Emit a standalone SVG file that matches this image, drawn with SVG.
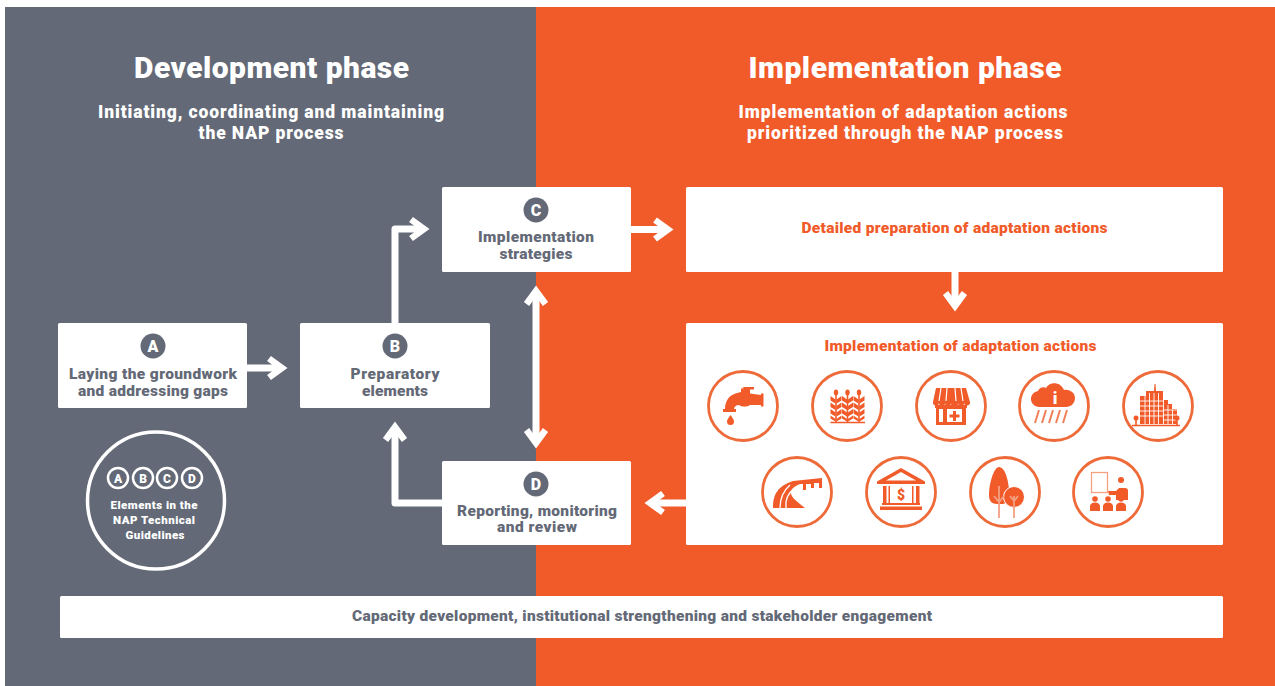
<svg xmlns="http://www.w3.org/2000/svg" width="1275" height="686" viewBox="0 0 1275 686">
<style>
text{font-family:"Roboto","Liberation Sans",sans-serif;font-weight:900;text-anchor:middle}
.box{fill:#fff}
.t{font-size:15.500px;fill:#636976}
.o{font-size:15.500px;fill:#f15a29}
.h1{font-size:30px;fill:#fff}
.h2{font-size:17.500px;fill:#fff}
.badge{fill:#636976}
.bl{font-size:16px;fill:#fff}
.ring{fill:none;stroke:#fff;stroke-width:2.500}
.sm{font-size:11.500px;fill:#fff}
.ltr{font-size:12px;fill:#fff}
.ic{fill:none;stroke:#ee6a38;stroke-width:2.800}
.f{fill:#f15a29}
.l{fill:none;stroke:#f15a29;stroke-width:1.600}
.c{fill:none;stroke:#fff;stroke-width:7;stroke-linejoin:round}
</style>
<defs>
<marker id="ah" markerUnits="userSpaceOnUse" markerWidth="24" markerHeight="26" viewBox="0 0 24 26" refX="18" refY="13" orient="auto-start-reverse">
<path d="M5 3.500L18 13L5 22.500" fill="none" stroke="#fff" stroke-width="6.500"/>
</marker>
</defs>
<rect x="5" y="7" width="531" height="679" fill="#636976"/>
<rect x="536" y="7" width="739" height="679" fill="#f15a29"/>
<g id="titles">
<text class="h1" x="271.500" y="78" textLength="275" lengthAdjust="spacing">Development phase</text>
<text class="h2" x="271" y="118" textLength="346" lengthAdjust="spacing">Initiating, coordinating and maintaining</text>
<text class="h2" x="271" y="139" textLength="145" lengthAdjust="spacing">the NAP process</text>
<text class="h1" x="905" y="78" textLength="313" lengthAdjust="spacing">Implementation phase</text>
<text class="h2" x="903" y="118" textLength="329" lengthAdjust="spacing">Implementation of adaptation actions</text>
<text class="h2" x="905" y="139" textLength="316" lengthAdjust="spacing">prioritized through the NAP process</text>
</g>
<g id="connectors">
<path class="c" d="M247 368H282" marker-end="url(#ah)"/>
<path class="c" d="M395 323V229H424" marker-end="url(#ah)"/>
<path class="c" d="M631 229.500H668" marker-end="url(#ah)"/>
<path class="c" d="M536 291V443" marker-start="url(#ah)" marker-end="url(#ah)"/>
<path class="c" d="M442 503H395V427" marker-end="url(#ah)"/>
<path class="c" d="M686 503H650" marker-end="url(#ah)"/>
<path class="c" d="M955 271V306" marker-end="url(#ah)"/>
</g>
<g id="node-a">
<rect class="box" x="58" y="323" width="189" height="85" rx="1.500"/>
<circle class="badge" cx="153" cy="346" r="12.500"/><text class="bl" x="153" y="351.500">A</text>
<text class="t" x="153" y="379" textLength="168" lengthAdjust="spacing">Laying the groundwork</text>
<text class="t" x="153" y="396" textLength="150" lengthAdjust="spacing">and addressing gaps</text>
</g>
<g id="node-b">
<rect class="box" x="300" y="323" width="190" height="85" rx="1.500"/>
<circle class="badge" cx="395" cy="346" r="12.500"/><text class="bl" x="395" y="351.500">B</text>
<text class="t" x="395" y="379" textLength="89" lengthAdjust="spacing">Preparatory</text>
<text class="t" x="395" y="396" textLength="66" lengthAdjust="spacing">elements</text>
</g>
<g id="node-c">
<rect class="box" x="442" y="187" width="189" height="85" rx="1.500"/>
<circle class="badge" cx="536" cy="210" r="12.500"/><text class="bl" x="536" y="215.500">C</text>
<text class="t" x="536" y="242" textLength="116" lengthAdjust="spacing">Implementation</text>
<text class="t" x="536" y="259" textLength="73" lengthAdjust="spacing">strategies</text>
</g>
<g id="node-d">
<rect class="box" x="442" y="461" width="189" height="84" rx="1.500"/>
<circle class="badge" cx="536" cy="484" r="12.500"/><text class="bl" x="536" y="489.500">D</text>
<text class="t" x="537" y="516" textLength="160" lengthAdjust="spacing">Reporting, monitoring</text>
<text class="t" x="537" y="532" textLength="80" lengthAdjust="spacing">and review</text>
</g>
<g id="node-detail">
<rect class="box" x="686" y="187" width="537" height="85" rx="1.500"/>
<text class="o" x="954.500" y="233" textLength="306" lengthAdjust="spacing">Detailed preparation of adaptation actions</text>
</g>
<g id="node-implementation">
<rect class="box" x="686" y="323" width="537" height="222" rx="1.500"/>
<text class="o" x="960.500" y="351" textLength="272" lengthAdjust="spacing">Implementation of adaptation actions</text>
<g id="icon-water">
<circle class="ic" cx="743" cy="406" r="34.500"/>
<path class="f" d="M743 387h11v2.500h-4v4l11 1.500v-1.500h2.500v13h-2.500v-1.500h-11c-3 2-8 2-11 0c-3 0-5 2-5 4h2v3h-13v-3h2c0-8 4-14 12-16l4-1v-3.500h2.500v-1h-1.500z"/>
<path class="f" d="M730.500 415c2 3 3.500 4.500 3.500 6.500a3.500 3.500 0 0 1-7 0c0-2 1.500-3.500 3.500-6.500z"/>
</g>
<g id="icon-crops">
<circle class="ic" cx="847" cy="406" r="34.500"/>
<path class="l" d="M830.500 422.500H865"/>
<path class="l" d="M836 391V422M847.500 391V422M859 391V422"/>
<g class="f">
<ellipse cx="836" cy="392.500" rx="2.200" ry="3"/><ellipse cx="847.500" cy="392.500" rx="2.200" ry="3"/><ellipse cx="859" cy="392.500" rx="2.200" ry="3"/>
<g id="leafrow">
<path d="M830.500 396l5 3.500v4l-5-3zM841.500 396l-5 3.500v4l5-3zM842 396l5 3.500v4l-5-3zM853 396l-5 3.500v4l5-3zM853.500 396l5 3.500v4l-5-3zM864.500 396l-5 3.500v4l5-3z"/>
<path transform="translate(0 6.500)" d="M830.500 396l5 3.500v4l-5-3zM841.500 396l-5 3.500v4l5-3zM842 396l5 3.500v4l-5-3zM853 396l-5 3.500v4l5-3zM853.500 396l5 3.500v4l-5-3zM864.500 396l-5 3.500v4l5-3z"/>
<path transform="translate(0 13)" d="M830.500 396l5 3.500v4l-5-3zM841.500 396l-5 3.500v4l5-3zM842 396l5 3.500v4l-5-3zM853 396l-5 3.500v4l5-3zM853.500 396l5 3.500v4l-5-3zM864.500 396l-5 3.500v4l5-3z"/>
<path transform="translate(0 19.500)" d="M830.500 396l5 3.500v2.500l-5-3zM841.500 396l-5 3.500v2.500l5-3zM842 396l5 3.500v2.500l-5-3zM853 396l-5 3.500v2.500l5-3zM853.500 396l5 3.500v2.500l-5-3zM864.500 396l-5 3.500v2.500l5-3z"/>
</g>
</g>
</g>
<g id="icon-clinic">
<circle class="ic" cx="951" cy="406" r="34.500"/>
<path class="f" d="M936 388h30l4 14a3 3 0 0 1-6 1a3 3 0 0 1-6 0a3 3 0 0 1-7 0a3 3 0 0 1-6 0a3 3 0 0 1-6 0a3 3 0 0 1-6-1z"/>
<path class="f" d="M935 405h32v3h-1v17h-30v-17h-1zM939 409v13h4v-13zM947 409v13h15v-13z"/>
<path class="f" d="M953 411h3v3.500h3.500v3h-3.500v3.500h-3v-3.500h-3.500v-3h3.500z"/>
<path d="M941 388l-2 13M947 388l-1 13M955 388l1 13M961 388l2 13" stroke="#fff" stroke-width="1.200"/>
</g>
<g id="icon-rain">
<circle class="ic" cx="1054" cy="406" r="34.500"/>
<path class="f" d="M1040 407a8 8 0 0 1-2-16c1-3 5-5 8-3c3-6 14-7 18 2c6-1 11 3 11 8c0 5-4 9-9 9z"/>
<text x="1055" y="404" style="font-size:17px;fill:#fff">i</text>
<path d="M1035 423l4-13M1042 423l4-13M1049 423l4-13M1056 423l4-13M1063 423l4-13" stroke="#f0805a" stroke-width="2" fill="none"/>
</g>
<g id="icon-city">
<circle class="ic" cx="1158" cy="406" r="34.500"/>
<path class="f" d="M1140 396h6v-5h8l.500-7h1l.500 7h7v33h-23z"/>
<path class="f" d="M1163 400h5v4h4v5h5v15h-14z"/>
<path d="M1140 401h23M1140 406h23M1140 411h23M1140 416h23M1145 393v31M1149.500 393v31M1154 393v31M1158.500 393v31M1163.500 400v24M1168 405v19M1172.500 410v14M1163 410h14M1163 415h14M1163 420h14" stroke="#fff" stroke-width=".900"/>
<circle class="f" cx="1136" cy="418" r="2.500"/>
<circle class="f" cx="1177" cy="418" r="2.500"/>
<path class="l" d="M1136 418v7M1177 418v7M1132 425.500H1180"/>
</g>
<g id="icon-road">
<circle class="ic" cx="797" cy="492" r="34.500"/>
<path class="f" d="M773 508c0-14 5-22 20-27l29-3v10h-3v-5h-5v5h-3v-4h-5v6h-3v-6h-3c-5 2-8 4-9 7c-1 4 2 8 14 17z"/>
<path d="M780 508c0-10 3-17 10-23M786 508c-1-8 2-15 9-20" stroke="#fff" stroke-width="1.300" fill="none"/>
</g>
<g id="icon-bank">
<circle class="ic" cx="901" cy="492" r="34.500"/>
<path class="f" d="M901 468l24 13.500v2.500h-48v-2.500zM901 472l-15 8.500h30z" fill-rule="evenodd"/>
<path class="f" d="M883 486h3.500v17h-3.500zM916 486h3.500v17h-3.500zM888.500 486h1.500v17h-1.500zM912 486h1.500v17h-1.500zM882 503h38v2h-38zM880 506.500h42v3.500h-42z"/>
<text x="901" y="500" style="font-size:14px;fill:#f15a29">$</text>
</g>
<g id="icon-trees">
<circle class="ic" cx="1005" cy="492" r="34.500"/>
<path class="f" d="M999 467c6 0 10 14 10 26c0 4-1 8-3 10c-2 1-4 1-7 1c-6 0-10-1-10-9c0-12 5-28 10-28z"/>
<circle class="f" cx="1014" cy="497" r="10.500" stroke="#fff" stroke-width="1"/>
<path d="M999 486V518M994 496l5 6l5-6M1014 496V518M1010 496l4 5l4-5" stroke="#f3a083" stroke-width="1.800" fill="none"/>
</g>
<g id="icon-training">
<circle class="ic" cx="1108" cy="492" r="34.500"/>
<rect x="1091.500" y="472.500" width="16" height="20" fill="none" stroke="#f3a083" stroke-width="1.300"/>
<path class="f" d="M1108 491l8 0l3-3h6a3 3 0 0 1 3 3v9h-12v-5h-7z"/><circle class="f" cx="1121" cy="480" r="3"/>
<g class="f">
<circle cx="1095" cy="499" r="2.800"/><path d="M1090 511v-5a5 3.500 0 0 1 10 0v5z"/>
<circle cx="1108" cy="499" r="2.800"/><path d="M1103 511v-5a5 3.500 0 0 1 10 0v5z"/>
<circle cx="1121" cy="499" r="2.800"/><path d="M1116 511v-5a5 3.500 0 0 1 10 0v5z"/>
</g>
</g>
</g>
<g id="node-legend">
<circle cx="156" cy="500.500" r="68.500" fill="none" stroke="#fff" stroke-width="3.500"/>
<circle class="ring" cx="118" cy="478" r="10"/><text class="ltr" x="118" y="482.500">A</text>
<circle class="ring" cx="143" cy="478" r="10"/><text class="ltr" x="143" y="482.500">B</text>
<circle class="ring" cx="167" cy="478" r="10"/><text class="ltr" x="167" y="482.500">C</text>
<circle class="ring" cx="192" cy="478" r="10"/><text class="ltr" x="192" y="482.500">D</text>
<text class="sm" x="154" y="509" textLength="87" lengthAdjust="spacing">Elements in the</text>
<text class="sm" x="154" y="524" textLength="82" lengthAdjust="spacing">NAP Technical</text>
<text class="sm" x="155" y="539" textLength="59" lengthAdjust="spacing">Guidelines</text>
</g>
<g id="node-capacity">
<rect class="box" x="60" y="596" width="1163" height="42" rx="1.500"/>
<text class="t" x="642" y="621" textLength="580" lengthAdjust="spacing">Capacity development, institutional strengthening and stakeholder engagement</text>
</g>
</svg>
